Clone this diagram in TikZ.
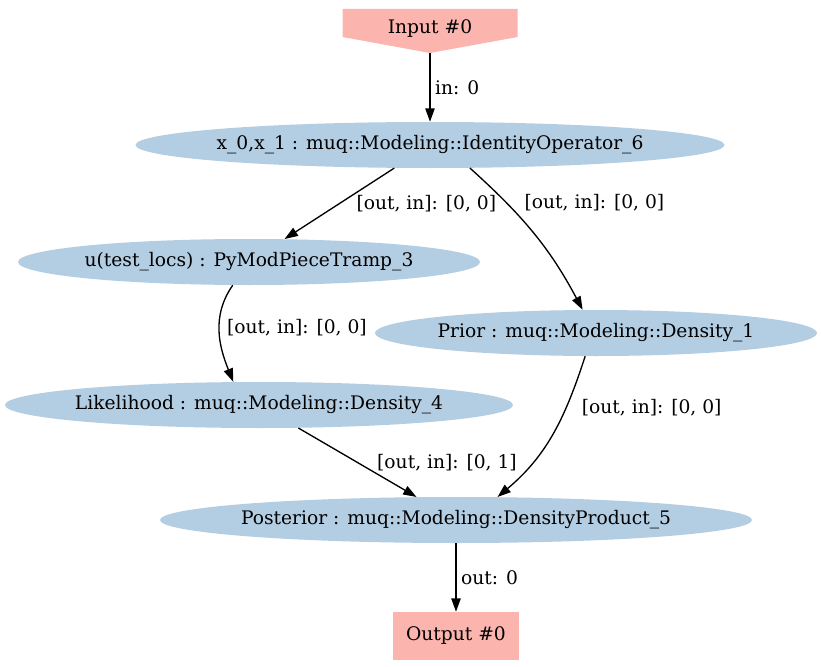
\documentclass[tikz,border=0pt]{standalone}
\usepackage{fontspec}
\setmainfont{DejaVu Serif}
\usetikzlibrary{shapes.geometric, arrows.meta}
\definecolor{modblue}{HTML}{B3CDE3}
\definecolor{portred}{HTML}{FBB4AE}
\tikzstyle{modnode}=[ellipse, fill=modblue, inner sep=0pt, minimum height=34.5pt]
\tikzstyle{portnode}=[rectangle, inner sep=0pt]
\tikzstyle{elabel}=[anchor=west]
\tikzstyle{edge}=[-{Triangle[length=10pt,width=7pt]}, line width=1pt]

\begin{document}
\begin{tikzpicture}[x=0.75pt, y=-0.75pt, font=\fontsize{14}{17}\selectfont]
\useasboundingbox (0,0) rectangle (821,667);
% ports
\node [portnode, minimum width=131.25pt, text height=18.5pt, text depth=14.5pt,
  path picture={\fill[portred] (path picture bounding box.north west) -- (path picture bounding box.north east)
  -- ([yshift=12pt]path picture bounding box.south east) -- (path picture bounding box.south)
  -- ([yshift=12pt]path picture bounding box.south west) -- cycle;}] (inp) at (430,31) {Input \#0};
\node [portnode, fill=portred, minimum width=94.5pt, minimum height=36pt] (outp) at (456,636) {Output \#0};
% model pieces
\node [modnode, minimum width=441.75pt] (ident) at (430,145) {\makebox[0pt]{x\_0,x\_1 : muq::Modeling::IdentityOperator\_6}};
\node [modnode, minimum width=346.5pt] (utl) at (249,262) {\makebox[0pt]{u(test\_locs) : PyModPieceTramp\_3}};
\node [modnode, minimum width=331.5pt] (prior) at (596,333) {\makebox[0pt]{Prior : muq::Modeling::Density\_1}};
\node [modnode, minimum width=381pt] (like) at (259,405) {\makebox[0pt]{Likelihood : muq::Modeling::Density\_4}};
\node [modnode, minimum width=444pt] (post) at (456,520) {\makebox[0pt]{Posterior : muq::Modeling::DensityProduct\_5}};

\draw [edge] (inp.south) -- node[elabel] {in: 0} (ident);
\draw [edge] (ident) -- node[elabel, xshift=9pt] {[out, in]: [0, 0]} (utl);
\draw [edge] (ident.-30) to[out=-42, in=118] node[elabel, pos=0.26, xshift=10pt] {[out, in]: [0, 0]} (prior.120);
\draw [edge] (utl.-125) to[out=-125, in=112] node[elabel, pos=0.45, xshift=2pt] {[out, in]: [0, 0]} (like.138);
\draw [edge] (prior.-115) to[out=-108, in=40] node[elabel, pos=0.31, xshift=8pt] {[out, in]: [0, 0]} (post.29);
\draw [edge] (like) -- node[elabel, xshift=11pt] {[out, in]: [0, 1]} (post);
\draw [edge] (post) -- node[elabel] {out: 0} (outp);
\end{tikzpicture}
\end{document}
